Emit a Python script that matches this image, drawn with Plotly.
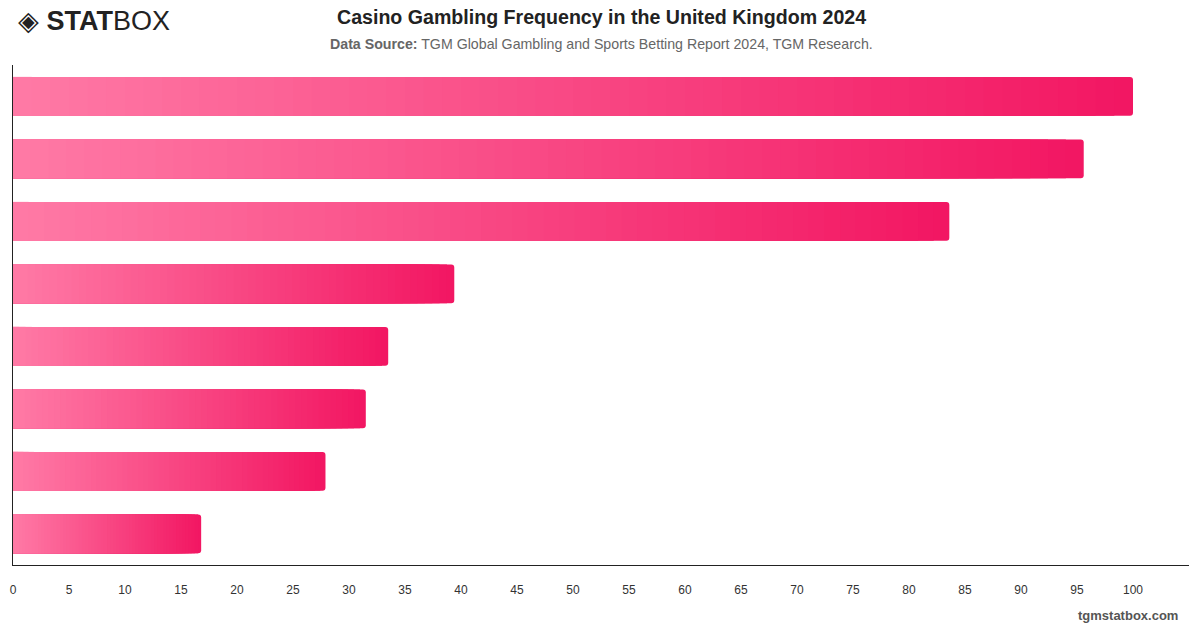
import plotly.graph_objects as go

# ---- data ----
categories = ["Cat 1", "Cat 2", "Cat 3", "Cat 4", "Cat 5", "Cat 6", "Cat 7", "Cat 8"]
values = [100, 95.6, 83.6, 39.4, 33.5, 31.5, 27.9, 16.8]
tick_values = list(range(0, 101, 5))
tick_labels = [str(v) for v in tick_values]

# ---- gradient styling ----
left_rgb = (255, 122, 166)
right_rgb = (242, 22, 98)
N = 60

fig = go.Figure()
for i in range(N):
    frac = (N - i) / N           # fraction of bar length covered by this layer
    t = (N - i - 0.5) / N        # colour position along the bar
    c = tuple(round(left_rgb[k] + (right_rgb[k] - left_rgb[k]) * t) for k in range(3))
    fig.add_trace(go.Bar(
        y=categories,
        x=[v * frac for v in values],
        orientation="h",
        marker=dict(color="rgb(%d,%d,%d)" % c, line=dict(width=0),
                    cornerradius=3 if i == 0 else 0),
        width=0.62,
        hoverinfo="skip",
        showlegend=False,
    ))

fig.update_layout(
    width=1200, height=628,
    barmode="overlay",
    plot_bgcolor="white", paper_bgcolor="white",
    margin=dict(l=10, r=11, t=65, b=63),
    font=dict(family="Liberation Sans, Arial, sans-serif", color="#333"),
    xaxis=dict(range=[0, 105], tickvals=tick_values, ticktext=tick_labels,
               showgrid=False, zeroline=False, showline=True, linecolor="#222",
               linewidth=1, ticks="", tickfont=dict(size=12, color="#333"),
               ticklabelstandoff=14),
    yaxis=dict(autorange="reversed", showticklabels=False, showgrid=False,
               zeroline=False, showline=True, linecolor="#222", linewidth=1,
               ticks="", range=[7.5, -0.5]),
)

H = 628
def ypx(p):
    # convert pixel y from top to paper coordinate
    return (H - 63 - p) / (H - 65 - 63)

fig.add_annotation(text="<b>Casino Gambling Frequency in the United Kingdom 2024</b>",
                   xref="paper", yref="paper", x=0.5, y=ypx(17), yanchor="middle",
                   showarrow=False, font=dict(size=19.6, color="#222"))
fig.add_annotation(text="<b>Data Source:</b> TGM Global Gambling and Sports Betting Report 2024, TGM Research.",
                   xref="paper", yref="paper", x=0.5, y=ypx(44), yanchor="middle",
                   showarrow=False, font=dict(size=14.2, color="#666"))
fig.add_annotation(text="◈ <b>STAT</b>BOX",
                   xref="paper", yref="paper", x=(13 - 10) / (1200 - 21), xanchor="left",
                   y=ypx(21), yanchor="middle",
                   showarrow=False, font=dict(size=27, color="#222"))
fig.add_annotation(text="<b>tgmstatbox.com</b>",
                   xref="paper", yref="paper", x=(1180 - 10) / (1200 - 21), xanchor="right",
                   y=ypx(615), yanchor="middle",
                   showarrow=False, font=dict(size=13, color="#555"))

fig.write_html("out.html")
